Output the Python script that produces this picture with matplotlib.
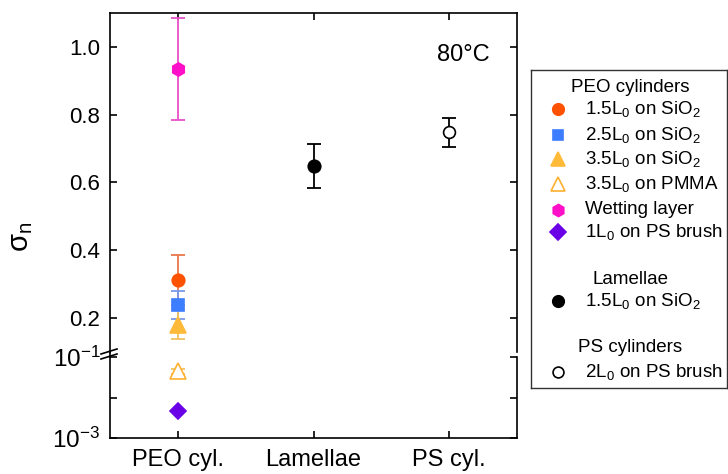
import matplotlib
matplotlib.use("Agg")
import matplotlib.pyplot as plt
from matplotlib.lines import Line2D
import numpy as np

plt.rcParams["font.family"] = ["Liberation Sans", "DejaVu Sans"]
plt.rcParams["mathtext.default"] = "regular"

# ---- data -------------------------------------------------------------
categories = ["PEO cyl.", "Lamellae", "PS cyl."]
group_titles = ["PEO cylinders", "Lamellae", "PS cylinders"]

series_labels = [
    "1.5L$_0$ on SiO$_2$",
    "2.5L$_0$ on SiO$_2$",
    "3.5L$_0$ on SiO$_2$",
    "3.5L$_0$ on PMMA",
    "Wetting layer",
    "1L$_0$ on PS brush",
    "1.5L$_0$ on SiO$_2$",
    "2L$_0$ on PS brush",
]
series_group = [0, 0, 0, 0, 0, 0, 1, 2]
sigma_n = [0.312, 0.239, 0.180, 0.044, 0.934, 0.0046, 0.650, 0.748]
sigma_err = [0.074, 0.041, 0.043, 0.006, 0.150, 0.0, 0.065, 0.043]

upper_ticks = [0.2, 0.4, 0.6, 0.8, 1.0]
lower_ticks = [1e-3, 1e-2, 1e-1]
lower_ticklabels = ["$10^{-3}$", "", "$10^{-1}$"]

# ---- styling ----------------------------------------------------------
markers = ["o", "s", "^", "^", "h", "D", "o", "o"]
msizes = [9, 8.5, 11, 11, 9.5, 8.5, 9, 8.5]
face = ["#FF5200", "#3D7DFF", "#FFBA3A", "white", "#FF10C8", "#6A00E6", "black", "white"]
edge = ["#FF5200", "#3D7DFF", "#FFBA3A", "#FFB030", "#FF10C8", "#6A00E6", "black", "black"]
bar_color = ["#E8784A", "#7A98E8", "#F2C25E", "#F2C25E", "#E850C8", "#6A00E6", "black", "black"]

W, H = 728, 474


def fbox(l, t, r, b):
    return [l / W, 1 - b / H, (r - l) / W, (b - t) / H]


fig = plt.figure(figsize=(W / 100, H / 100), dpi=100)
ax_hi = fig.add_axes(fbox(110, 13, 517, 352))
ax_lo = fig.add_axes(fbox(110, 357, 517, 438))

xpos = np.arange(len(categories))
ytick_fs = 16
xtick_fs = 17

for ax in (ax_hi, ax_lo):
    ax.set_xlim(-0.5, len(categories) - 0.5)
    ax.set_xticks(xpos)
    for s in ax.spines.values():
        s.set_linewidth(1.2)
    ax.minorticks_off()

ax_hi.set_ylim(0.1, 1.1)
ax_hi.set_yticks(upper_ticks)
ax_hi.set_yticklabels([f"{v:.1f}" for v in upper_ticks])
ax_hi.spines["bottom"].set_visible(False)
ax_hi.tick_params(axis="both", direction="in", length=5, width=1.2,
                  top=True, right=True, bottom=False, labelbottom=False,
                  labelsize=ytick_fs, pad=7)

ax_lo.set_yscale("log")
ax_lo.set_ylim(1e-3, 1e-1)
ax_lo.set_yticks(lower_ticks)
ax_lo.set_yticklabels(lower_ticklabels)
ax_lo.minorticks_off()
ax_lo.spines["top"].set_visible(False)
ax_lo.set_xticklabels(categories)
ax_lo.tick_params(axis="both", direction="in", length=5, width=1.2,
                  top=False, right=True, bottom=True, pad=7)
ax_lo.tick_params(axis="y", labelsize=17.5)
ax_lo.tick_params(axis="x", labelsize=xtick_fs, pad=8)

# error bars first, markers on top
for i in range(len(sigma_n)):
    ax = ax_hi if sigma_n[i] >= 0.1 else ax_lo
    x = xpos[series_group[i]]
    if sigma_err[i] > 0:
        ax.errorbar(x, sigma_n[i], yerr=sigma_err[i], fmt="none",
                    ecolor=bar_color[i], elinewidth=1.3, capsize=4.7,
                    capthick=1.3, zorder=2, clip_on=False)
for i in range(len(sigma_n)):
    ax = ax_hi if sigma_n[i] >= 0.1 else ax_lo
    x = xpos[series_group[i]]
    ax.plot(x, sigma_n[i], marker=markers[i], ms=msizes[i], mfc=face[i],
            mec=edge[i], mew=1.2, ls="none", zorder=3, clip_on=False)

ax_hi.text(0.867, 0.876, "80°C", transform=ax_hi.transAxes, fontsize=17,
           ha="center", va="center")

# axis break marks on the left spine
fig.add_artist(Line2D([110 / W, 110 / W], [1 - 352 / H, 1 - 357 / H],
                      color="black", lw=1.2, transform=fig.transFigure))
for y0 in (354, 359):
    fig.add_artist(Line2D([101 / W, 117 / W], [1 - y0 / H, 1 - (y0 - 5) / H],
                          color="black", lw=1.2, transform=fig.transFigure))

fig.text(21 / W, 1 - 237 / H, "σ$_n$", rotation=90, fontsize=21,
         ha="center", va="center")

# ---- legend panel -----------------------------------------------------
lax = fig.add_axes(fbox(531, 70, 727, 388))
lax.set_xlim(0, 196)
lax.set_ylim(318, 0)
lax.set_xticks([])
lax.set_yticks([])
for s in lax.spines.values():
    s.set_linewidth(1.0)
    s.set_edgecolor("#333333")

title_rows = [17, 209, 277]
entry_rows = [39, 65, 89, 114, 140, 162, 231, 302]
leg_fs = 13.5
for g, yrow in enumerate(title_rows):
    lax.text(99, yrow, group_titles[g], fontsize=leg_fs, ha="center", va="center")
for i, yrow in enumerate(entry_rows):
    lax.plot(27, yrow, marker=markers[i], ms=msizes[i] * 0.92, mfc=face[i],
             mec=edge[i], mew=1.2, ls="none")
    lax.text(54, yrow, series_labels[i], fontsize=leg_fs, ha="left", va="center")

fig.savefig("out.png", dpi=100)
